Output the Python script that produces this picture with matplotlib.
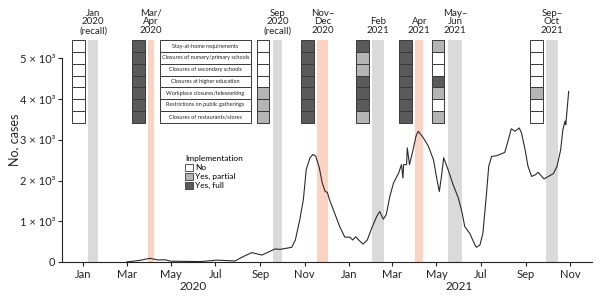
import matplotlib
matplotlib.use("Agg")
import matplotlib.pyplot as plt
import matplotlib.dates as mdates
import matplotlib.transforms as mtransforms
from matplotlib.patches import Rectangle, Patch
import pandas as pd

# daily cases
case_dates = [
    "2020-03-01", "2020-03-19", "2020-04-02", "2020-04-13", "2020-04-23", "2020-04-30",
    "2020-06-10", "2020-07-03", "2020-07-28", "2020-08-08", "2020-08-20", "2020-09-03",
    "2020-09-21", "2020-09-28", "2020-10-14", "2020-10-19", "2020-10-25", "2020-10-30",
    "2020-11-03", "2020-11-08", "2020-11-12", "2020-11-16", "2020-11-21", "2020-11-25",
    "2020-11-29", "2020-12-02", "2020-12-05", "2020-12-12", "2020-12-19", "2020-12-26",
    "2021-01-02", "2021-01-06", "2021-01-10", "2021-01-15", "2021-01-20", "2021-01-26",
    "2021-02-01", "2021-02-08", "2021-02-12", "2021-02-17", "2021-02-21", "2021-02-26",
    "2021-03-03", "2021-03-10", "2021-03-14", "2021-03-16", "2021-03-17", "2021-03-21",
    "2021-03-22", "2021-03-25", "2021-03-30", "2021-04-03", "2021-04-06", "2021-04-13",
    "2021-04-20", "2021-04-27", "2021-05-01", "2021-05-05", "2021-05-08", "2021-05-11",
    "2021-05-17", "2021-05-24", "2021-05-31", "2021-06-05", "2021-06-09", "2021-06-16",
    "2021-06-23", "2021-06-25", "2021-06-30", "2021-07-04", "2021-07-09", "2021-07-12",
    "2021-07-16", "2021-07-23", "2021-07-30", "2021-08-03", "2021-08-08", "2021-08-12",
    "2021-08-17", "2021-08-23", "2021-08-26", "2021-08-31", "2021-09-04", "2021-09-09",
    "2021-09-14", "2021-09-18", "2021-09-22", "2021-09-26", "2021-10-02", "2021-10-09",
    "2021-10-14", "2021-10-19", "2021-10-22", "2021-10-25", "2021-10-26", "2021-10-30",
]
case_values = [
    0, 40, 90, 50, 55, 20,
    10, 45, 25, 130, 230, 170,
    320, 310, 360, 540, 1030, 1530,
    2270, 2550, 2640, 2600, 2310, 1940,
    1730, 1710, 1530, 1200, 870, 610,
    610, 540, 620, 525, 440, 540,
    830, 1120, 1240, 1050, 1160, 1610,
    1940, 2180, 2390, 2060, 2390, 2390,
    2800, 2390, 2760, 3090, 3210, 3050,
    2840, 2510, 2100, 1730, 2100, 2560,
    2270, 1900, 1580, 1240, 870, 700,
    420, 360, 420, 710, 1690, 2350,
    2590, 2610, 2660, 2690, 3000, 3270,
    3210, 3290, 3170, 2760, 2350, 2100,
    2140, 2200, 2120, 2040, 2100, 2170,
    2350, 2760, 3250, 3460, 3370, 4190,
]

period_labels = ["Jan\n2020\n(recall)", "Mar/\nApr\n2020", "Sep\n2020\n(recall)", "Nov–\nDec\n2020",
                 "Feb\n2021", "Apr\n2021", "May–\nJun\n2021", "Sep–\nOct\n2021"]
period_start = ["2020-01-08", "2020-03-31", "2020-09-18", "2020-11-18",
                "2021-02-02", "2021-04-02", "2021-05-17", "2021-09-29"]
period_end = ["2020-01-22", "2020-04-07", "2020-10-01", "2020-12-03",
              "2021-02-18", "2021-04-13", "2021-06-05", "2021-10-15"]
period_lockdown = [False, True, False, True, False, True, False, False]

measures = ["Stay-at-home requirements", "Closures of nursery/primary schools",
            "Closures of secondary schools", "Closures at higher education",
            "Workplace closures/teleworking", "Restrictions on public gatherings",
            "Closures of restaurants/stores"]
# 0 = no, 1 = partial, 2 = full
status = [
    [0, 0, 0, 0, 0, 0, 0],
    [2, 2, 2, 2, 2, 2, 2],
    [0, 0, 0, 0, 1, 1, 1],
    [2, 2, 2, 2, 2, 2, 2],
    [2, 1, 1, 2, 2, 2, 1],
    [2, 2, 2, 2, 2, 2, 2],
    [1, 0, 0, 2, 1, 0, 1],
    [0, 0, 0, 0, 1, 0, 0],
]
status_labels = ["No", "Yes, partial", "Yes, full"]

yticks = [0, 1000, 2000, 3000, 4000, 5000]
ytick_labels = ["0", "1 × 10³", "2 × 10³", "3 × 10³", "4 × 10³", "5 × 10³"]

status_colors = ["white", "#b4b4b4", "#5a5a5a"]
grey_band = "#dadada"
pink_band = "#fcd3c3"
edge = "#3a3a3a"
ink = "#222222"

plt.rcParams["font.family"] = ["Lato", "DejaVu Sans"]

fig = plt.figure(figsize=(6, 2.96), dpi=100)
ax = fig.add_axes([0.1033, 0.1149, 0.8833, 0.75])

x_lo = mdates.date2num(pd.Timestamp("2019-12-03"))
x_hi = mdates.date2num(pd.Timestamp("2021-12-01"))
y_top = 5450
box_top = 5440
row_h = 288
box_w = 17
box_gap = 5

# bands for survey periods
for lab, s, e, lock in zip(period_labels, period_start, period_end, period_lockdown):
    s0 = mdates.date2num(pd.Timestamp(s))
    e0 = mdates.date2num(pd.Timestamp(e))
    ax.add_patch(Rectangle((s0, 0), e0 - s0, box_top, facecolor=pink_band if lock else grey_band,
                           edgecolor="none", zorder=1))
    ax.text((s0 + e0) / 2, y_top + 120, lab, ha="center", va="bottom", fontsize=7,
            linespacing=0.95, color=ink, clip_on=False)

# measure grids
for s, col in zip(period_start, status):
    s0 = mdates.date2num(pd.Timestamp(s))
    left = s0 - box_gap - box_w
    for i, v in enumerate(col):
        ax.add_patch(Rectangle((left, box_top - (i + 1) * row_h), box_w, row_h,
                               facecolor=status_colors[v], edgecolor=edge, lw=0.7, zorder=3))

# table of measure names
t_left = mdates.date2num(pd.Timestamp("2020-04-16"))
t_right = mdates.date2num(pd.Timestamp("2020-08-19"))
for i, m in enumerate(measures):
    ax.add_patch(Rectangle((t_left, box_top - (i + 1) * row_h), t_right - t_left, row_h,
                           facecolor="white", edgecolor=edge, lw=0.7, zorder=3))
    ax.text((t_left + t_right) / 2, box_top - (i + 0.5) * row_h, m, ha="center", va="center",
            fontsize=4, color=ink, zorder=4)

ax.plot(pd.to_datetime(case_dates), case_values, color="#2b2b2b", lw=0.8, zorder=2)

ax.set_xlim(x_lo, x_hi)
ax.set_ylim(0, y_top)
ax.xaxis.set_major_locator(mdates.MonthLocator(bymonth=[1, 3, 5, 7, 9, 11]))
ax.xaxis.set_major_formatter(mdates.DateFormatter("%b"))
ax.set_yticks(yticks)
ax.set_yticklabels(ytick_labels)
ax.tick_params(labelsize=8, length=3, width=0.8, colors=ink, pad=2)

for sp in ["top", "right"]:
    ax.spines[sp].set_visible(False)
ax.spines["left"].set_bounds(0, 5000)
ax.spines["left"].set_color(ink)
ax.spines["bottom"].set_color(ink)

ax.text(-0.088, 0.55, "No. cases", rotation=90, transform=ax.transAxes, ha="center",
        va="center", fontsize=9, color=ink)

trans = mtransforms.blended_transform_factory(ax.transData, ax.transAxes)
for yr in ["2020", "2021"]:
    ax.text(mdates.date2num(pd.Timestamp(yr + "-06-01")), -0.112, yr, transform=trans,
            ha="center", va="center", fontsize=8.5, color=ink)

handles = [Patch(facecolor=c, edgecolor=edge, lw=0.6, label=l)
           for c, l in zip(status_colors, status_labels)]
ax.legend(handles=handles, title="Implementation", loc="upper left",
          bbox_to_anchor=(0.225, 0.5), frameon=False, fontsize=6, title_fontsize=6,
          handlelength=0.9, handleheight=0.9, handletextpad=0.3, labelspacing=0.2,
          borderpad=0, alignment="left")

fig.savefig("out.png", dpi=100)
